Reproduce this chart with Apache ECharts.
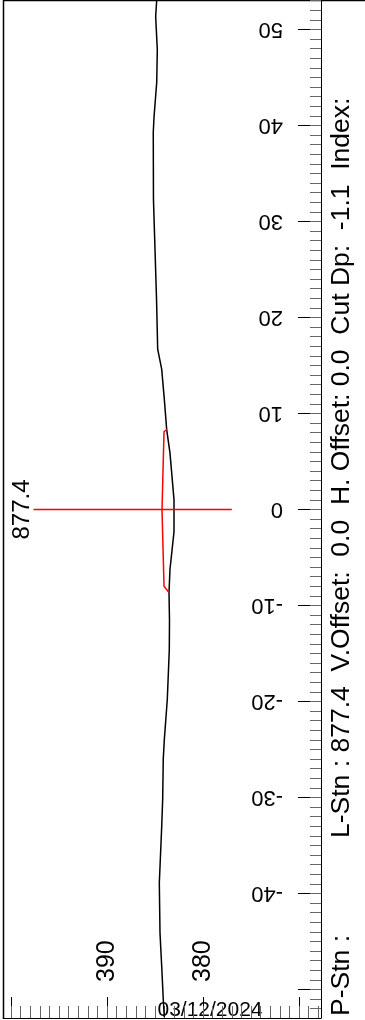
<!DOCTYPE html>
<html><head><meta charset="utf-8">
<script src="https://cdn.jsdelivr.net/npm/echarts@6/dist/echarts.min.js"></script>
<style>html,body{margin:0;padding:0;background:#fff}#c{width:365px;height:1020px}</style>
</head><body><div id="c"></div>
<script>
// ---- data ----
const groundOffset = [53.1, 51.35, 47.9, 44.5, 40.9, 39.3, 32.3, 27.1, 21.9, 16.7, 14.6, 11.5, 8.3, 5.9, 1.0, -2.3, -6.25, -8.65, -11.5, -14.6, -19.8, -24.0, -26.0, -30.2, -33.0, -38.9, -44.1, -47.6, -51.0, -52.9];
const groundElev   = [384.82, 384.93, 384.76, 384.82, 385.10, 385.18, 385.16, 385.00, 384.84, 384.72, 384.30, 384.03, 383.78, 383.44, 383.02, 383.02, 383.44, 383.54, 383.49, 383.51, 383.72, 384.03, 384.14, 384.20, 384.30, 384.55, 384.48, 384.30, 384.14, 384.03];
const designOffset = [8.33, 8.1, 0, -8.0, -8.65];
const designElev   = [383.75, 384.06, 384.27, 384.06, 383.54];
const crossOffset  = [0, 0];
const crossElev    = [397.66, 377.0];
const elevMajorTicks   = [370, 380, 390, 400];
const elevLabels       = [380, 390];
const offsetMajorTicks = [-50, -40, -30, -20, -10, 0, 10, 20, 30, 40, 50];
const offsetLabels     = [-40, -30, -20, -10, 0, 10, 20, 30, 40, 50];
const chainageLabel = '877.4';
const dateLabel = '03/12/2024';
const infoPStn = 'P-Stn :';
const infoLine = 'L-Stn : 877.4  V.Offset:  0.0  H. Offset: 0.0  Cut Dp:  -1.1  Index:';

// ---- layout ----
const ELEV_MIN = 367.708, ELEV_MAX = 400.833;
const OFF_MIN = -52.97, OFF_MAX = 53.07;
const elevMinor = []; for (let v = 368; v <= 400; v++) elevMinor.push(v);
const offMinor = []; for (let v = -52; v <= 53; v++) offMinor.push(v);
const FONT = 'Liberation Sans';

const zip = (a, b) => a.map((v, i) => [v, b[i]]);

const chart = echarts.init(document.getElementById('c'), null, {renderer: 'canvas'});
const option = {
  animation: false,
  backgroundColor: '#fff',
  grid: {left: 3, right: 44, top: 0, bottom: 2, show: false},
  xAxis: [
    {type: 'value', inverse: true, min: ELEV_MIN, max: ELEV_MAX, position: 'bottom',
     axisLine: {show: true, onZero: false, lineStyle: {color: '#000', width: 1}},
     axisTick: {show: true, inside: true, length: 21, customValues: elevMajorTicks, lineStyle: {color: '#000', width: 1}},
     axisLabel: {show: true, inside: true, customValues: elevLabels, rotate: 90, margin: 36,
                 align: 'left', verticalAlign: 'middle', fontSize: 25, color: '#000', fontFamily: FONT},
     splitLine: {show: false}},
    {type: 'value', inverse: true, min: ELEV_MIN, max: ELEV_MAX, position: 'bottom',
     axisLine: {show: false, onZero: false},
     axisTick: {show: true, inside: true, length: 12, customValues: elevMinor, lineStyle: {color: '#666', width: 1}},
     axisLabel: {show: false}, splitLine: {show: false}}
  ],
  yAxis: [
    {type: 'value', min: OFF_MIN, max: OFF_MAX, position: 'right',
     axisLine: {show: true, onZero: false, lineStyle: {color: '#000', width: 1}},
     axisTick: {show: true, inside: true, length: 23, customValues: offsetMajorTicks, lineStyle: {color: '#000', width: 1}},
     axisLabel: {show: true, inside: true, customValues: offsetLabels, rotate: 180, margin: 38,
                 align: 'left', verticalAlign: 'middle', fontSize: 22, color: '#000', fontFamily: FONT},
     splitLine: {show: false}},
    {type: 'value', min: OFF_MIN, max: OFF_MAX, position: 'right',
     axisLine: {show: false, onZero: false},
     axisTick: {show: true, inside: true, length: 11, customValues: offMinor, lineStyle: {color: '#666', width: 1}},
     axisLabel: {show: false}, splitLine: {show: false}}
  ],
  series: [
    {type: 'line', xAxisIndex: 0, yAxisIndex: 0, data: zip(groundElev, groundOffset),
     showSymbol: false, symbol: 'none', lineStyle: {color: '#000', width: 1.5}, z: 3},
    {type: 'line', xAxisIndex: 0, yAxisIndex: 0, data: zip(designElev, designOffset),
     showSymbol: false, symbol: 'none', lineStyle: {color: '#ff0000', width: 1.5}, z: 4},
    {type: 'line', xAxisIndex: 0, yAxisIndex: 0, data: zip(crossElev, crossOffset),
     showSymbol: false, symbol: 'none', lineStyle: {color: '#ff0000', width: 1.5}, z: 4}
  ]
};
chart.setOption(option);

const p = chart.convertToPixel({xAxisIndex: 0, yAxisIndex: 0}, [crossElev[0], crossOffset[0]]);
chart.setOption({
  graphic: [
    {type: 'line', shape: {x1: 3, y1: 0.5, x2: 365, y2: 0.5}, style: {stroke: '#000', lineWidth: 1.5}, silent: true},
    {type: 'line', shape: {x1: 3.5, y1: 0, x2: 3.5, y2: 1018}, style: {stroke: '#000', lineWidth: 1.5}, silent: true},
    {type: 'text', x: p[0] + 1, y: p[1], rotation: Math.PI / 2,
     style: {text: chainageLabel, fill: '#000', font: '24px ' + FONT, align: 'center', verticalAlign: 'bottom'}},
    {type: 'text', x: 210, y: 1021,
     style: {text: dateLabel, fill: '#000', font: '21px ' + FONT, align: 'center', verticalAlign: 'bottom'}},
    {type: 'text', x: 342, y: 1016, rotation: Math.PI / 2,
     style: {text: infoPStn, fill: '#000', font: '26.5px ' + FONT, align: 'left', verticalAlign: 'middle'}},
    {type: 'text', x: 342, y: 838, rotation: Math.PI / 2,
     style: {text: infoLine, fill: '#000', font: '26.5px ' + FONT, align: 'left', verticalAlign: 'middle'}}
  ]
});
</script></body></html>
